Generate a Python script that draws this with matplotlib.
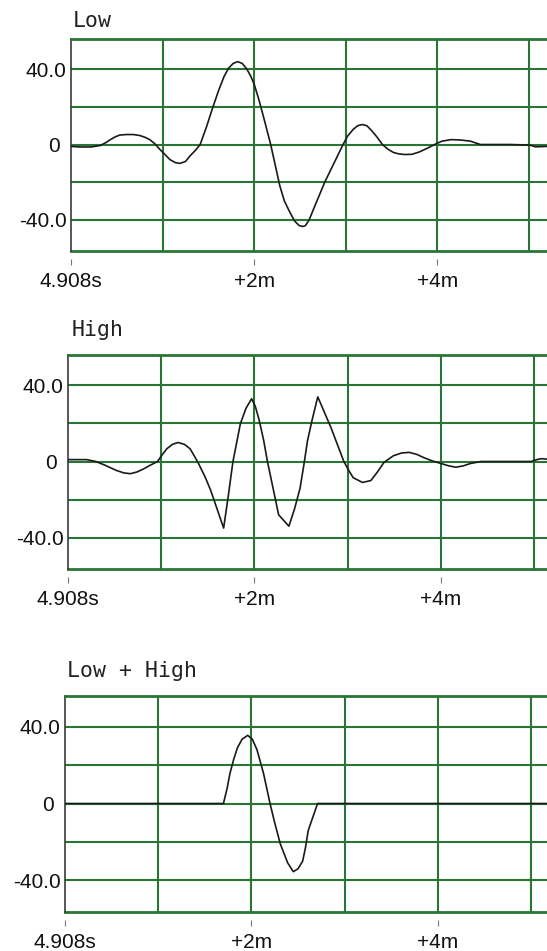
import matplotlib.pyplot as plt

# time in ms after 4.908 s, amplitude
low_t = [0.00, 0.10, 0.22, 0.32, 0.38, 0.43, 0.48, 0.53, 0.60, 0.68, 0.75, 0.81,
         0.86, 0.92, 0.97, 1.03, 1.08, 1.14, 1.19, 1.25, 1.30, 1.36, 1.41, 1.48,
         1.55, 1.61, 1.67, 1.72, 1.77, 1.82, 1.87, 1.92, 1.96, 2.00, 2.05, 2.10,
         2.14, 2.18, 2.23, 2.28, 2.33, 2.39, 2.44, 2.49, 2.53, 2.56, 2.60, 2.65,
         2.71, 2.77, 2.87, 2.97, 3.02, 3.08, 3.13, 3.18, 3.23, 3.28, 3.34, 3.40,
         3.46, 3.52, 3.58, 3.65, 3.72, 3.80, 3.88, 3.97, 4.05, 4.15, 4.25, 4.36,
         4.42, 4.47, 4.80, 5.01, 5.07, 5.20]
low_v = [-1.0, -1.3, -1.3, -0.5, 1.0, 2.6, 4.0, 5.0, 5.3, 5.3, 4.8, 3.8,
         2.6, 0.2, -2.6, -5.5, -8.0, -9.6, -10.0, -9.0, -6.0, -3.0, 0.0, 9.5,
         20.0, 28.5, 36.0, 40.5, 43.0, 44.0, 43.0, 40.0, 36.5, 32.0, 24.0, 15.0,
         7.5, 0.0, -11.0, -22.0, -30.0, -36.0, -40.5, -43.0, -43.5, -43.0, -40.0, -34.0,
         -27.0, -20.0, -10.0, 0.0, 4.5, 8.0, 10.0, 10.6, 10.0, 7.5, 4.0, 0.0,
         -2.5, -4.2, -5.0, -5.3, -5.2, -4.0, -2.2, 0.0, 1.8, 2.6, 2.4, 1.8,
         0.8, 0.0, 0.0, -0.3, -1.2, -1.0]

high_t = [0.00, 0.20, 0.30, 0.40, 0.52, 0.60, 0.67, 0.74, 0.81, 0.88, 0.96, 1.01,
          1.06, 1.12, 1.18, 1.25, 1.31, 1.36, 1.40, 1.47, 1.53, 1.60, 1.67, 1.72,
          1.77, 1.81, 1.85, 1.91, 1.97, 2.01, 2.05, 2.10, 2.14, 2.20, 2.26, 2.37,
          2.43, 2.49, 2.53, 2.57, 2.62, 2.68, 2.75, 2.82, 2.89, 2.96, 3.01, 3.06,
          3.16, 3.25, 3.32, 3.39, 3.49, 3.58, 3.66, 3.74, 3.82, 3.91, 4.00, 4.08,
          4.16, 4.24, 4.32, 4.43, 4.97, 5.03, 5.08, 5.20]
high_v = [1.0, 1.0, 0.0, -2.0, -4.7, -6.0, -6.4, -5.5, -3.9, -2.0, 0.0, 3.5,
          6.7, 9.0, 10.0, 9.0, 6.7, 2.5, -1.0, -8.0, -15.0, -25.0, -35.0, -18.0,
          0.0, 10.0, 20.0, 28.0, 33.0, 29.0, 22.0, 11.0, 0.0, -14.0, -28.0, -34.0,
          -25.0, -14.0, -2.0, 11.0, 22.0, 34.0, 26.0, 18.0, 9.0, 0.0, -4.5, -8.5,
          -11.0, -10.0, -5.5, -0.5, 3.0, 4.5, 4.8, 3.8, 2.0, 0.3, -1.0, -2.2,
          -3.0, -2.3, -1.0, 0.0, 0.0, 1.0, 1.5, 1.0]

sum_t = [0.00, 1.70, 1.74, 1.77, 1.81, 1.85, 1.90, 1.96, 2.01, 2.06, 2.13, 2.20,
         2.25, 2.31, 2.39, 2.45, 2.50, 2.55, 2.58, 2.61, 2.66, 2.71, 5.20]
sum_v = [0.0, 0.0, 8.0, 15.7, 23.0, 29.0, 33.5, 35.5, 33.5, 28.0, 15.7, 0.0,
         -10.0, -21.0, -31.0, -35.5, -34.0, -30.0, -23.0, -14.0, -7.0, 0.0, 0.0]

titles = ["Low", "High", "Low + High"]
xtick_pos = [0, 2, 4]
xtick_labels = ["4.908s", "+2m", "+4m"]
ytick_pos = [40, 0, -40]
ytick_labels = ["40.0", "0 ", "-40.0"]

W, H = 547, 951
green = '#2a7536'

fig = plt.figure(figsize=(W / 100, H / 100), dpi=100)

# left, top, bottom (pixels), pixels per ms
boxes = [(71, 39, 251, 91.6), (68, 355, 569, 93.2), (65, 696, 912, 93.2)]
title_xy = [(73, 27), (72, 336), (67, 677)]
series = [(low_t, low_v), (high_t, high_v), (sum_t, sum_v)]

for (left, top, bottom, scale), (tx, ty), title, (t, v) in zip(boxes, title_xy, titles, series):
    ax = fig.add_axes([left / W, 1 - bottom / H, (W - left) / W, (bottom - top) / H])
    ax.set_xlim(0, (W - left) / scale)
    ax.set_ylim(-56.5, 56)

    for y in [-40, -20, 0, 20, 40]:
        ax.axhline(y, color=green, lw=1.5, zorder=1)
    for x in [1, 2, 3, 4, 5]:
        ax.axvline(x, color=green, lw=1.5, zorder=1)
    ax.axhline(-56.5, color=green, lw=2, zorder=1, clip_on=False)

    ax.plot(t, v, color='#1a1a1a', lw=1.2, zorder=3)

    ax.spines['right'].set_visible(False)
    ax.spines['top'].set_color(green)
    ax.spines['top'].set_linewidth(2)
    ax.spines['left'].set_color('#3a3a3a')
    ax.spines['left'].set_linewidth(1.2)
    ax.spines['bottom'].set_position(('outward', 6))
    ax.spines['bottom'].set_visible(False)

    ax.set_xticks(xtick_pos)
    ax.set_xticklabels(xtick_labels, fontsize=15, family='Liberation Sans', color='#111111')
    ax.tick_params(axis='x', length=4, width=0.8, color='#777777', pad=5)
    ax.set_yticks(ytick_pos)
    ax.set_yticklabels(ytick_labels, fontsize=15, family='Liberation Sans', color='#111111')
    ax.tick_params(axis='y', length=0, pad=3)

    fig.text(tx / W, 1 - ty / H, title, family='DejaVu Sans Mono', fontsize=15.5,
             color='#222222', va='baseline', ha='left')

fig.savefig('out.png', dpi=100)
